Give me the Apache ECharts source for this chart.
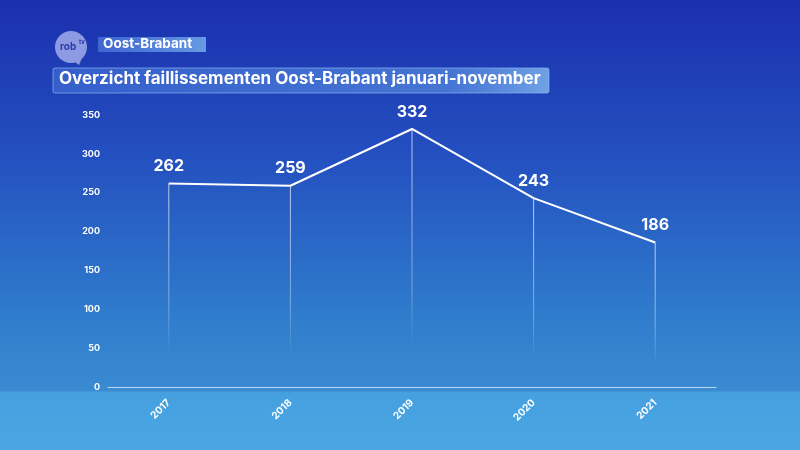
<!DOCTYPE html>
<html><head><meta charset="utf-8">
<script src="https://cdn.jsdelivr.net/npm/echarts@6/dist/echarts.min.js"></script>
<style>html,body{margin:0;padding:0;}#c{width:800px;height:450px;}</style>
</head><body><div id="c"></div>
<script>
const years = ['2017','2018','2019','2020','2021'];
const values = [262, 259, 332, 243, 186];
const yTicks = [0, 50, 100, 150, 200, 250, 300, 350];
const tag = 'Oost-Brabant';
const title = 'Overzicht faillissementen Oost-Brabant januari-november';

const chart = echarts.init(document.getElementById('c'));
const font = 'Inter, "Open Sans", sans-serif';
chart.setOption({
  animation: false,
  backgroundColor: {
    type: 'linear', x: 0, y: 0, x2: 0, y2: 1,
    colorStops: [
      {offset: 0, color: '#1b2fae'},
      {offset: 0.35, color: '#2450c0'},
      {offset: 0.7, color: '#2f7ccc'},
      {offset: 0.868, color: '#3a8bd2'},
      {offset: 0.872, color: '#46a0e0'},
      {offset: 1, color: '#4aa6e2'}
    ]
  },
  graphic: [
    {type: 'circle', shape: {cx: 71, cy: 47, r: 16}, style: {fill: '#8e9be3'}},
    {type: 'polygon', shape: {points: [[72, 60], [82, 58], [79, 65]]}, style: {fill: '#8e9be3'}},
    {type: 'text', x: 60, y: 42, style: {text: 'rob', fill: '#2a3aa8', font: 'bold 10px ' + font}},
    {type: 'text', x: 79, y: 39, style: {text: 'tv', fill: '#2a3aa8', font: 'bold 6px ' + font}},
    {type: 'rect', shape: {x: 98, y: 37, width: 108, height: 15},
      style: {fill: {type: 'linear', x: 0, y: 0, x2: 1, y2: 0, colorStops: [{offset: 0, color: 'rgba(90,140,235,0.55)'}, {offset: 1, color: 'rgba(120,180,240,0.8)'}]}}},
    {type: 'text', x: 103, y: 37, style: {text: tag, fill: '#ffffff', font: 'bold 13.5px ' + font}},
    {type: 'rect', shape: {x: 53, y: 68, width: 496, height: 25, r: 2},
      style: {fill: {type: 'linear', x: 0, y: 0, x2: 1, y2: 0, colorStops: [{offset: 0, color: 'rgba(70,120,220,0.55)'}, {offset: 0.8, color: 'rgba(100,160,235,0.55)'}, {offset: 1, color: 'rgba(140,195,245,0.75)'}]},
        stroke: 'rgba(140,180,240,0.7)', lineWidth: 1}},
    {type: 'text', x: 59, y: 70, style: {text: title, fill: '#ffffff', font: 'bold 17px ' + font}}
  ],
  grid: {left: 108, right: 84, top: 115, bottom: 63},
  xAxis: {
    type: 'category', data: years, boundaryGap: true,
    axisLine: {lineStyle: {color: 'rgba(200,225,250,0.9)', width: 1}},
    axisTick: {show: false},
    axisLabel: {rotate: 45, color: '#ffffff', fontFamily: font, fontWeight: 'bold', fontSize: 10, margin: 14}
  },
  yAxis: {
    type: 'value', min: 0, max: 350, interval: 50,
    axisLine: {show: false}, axisTick: {show: false}, splitLine: {show: false},
    axisLabel: {color: '#ffffff', fontFamily: font, fontWeight: 'bold', fontSize: 9, margin: 8}
  },
  series: [
    {
      type: 'bar', data: values, barWidth: 1, silent: true,
      itemStyle: {color: {type: 'linear', x: 0, y: 0, x2: 0, y2: 1, colorStops: [
        {offset: 0, color: 'rgba(255,255,255,0.7)'},
        {offset: 0.6, color: 'rgba(255,255,255,0.35)'},
        {offset: 0.85, color: 'rgba(255,255,255,0)'},
        {offset: 1, color: 'rgba(255,255,255,0)'}]}}
    },
    {
      type: 'line', data: values, symbol: 'circle', symbolSize: 0.1, showSymbol: true,
      lineStyle: {color: '#ffffff', width: 2},
      label: {show: true, position: 'top', distance: 9, color: '#ffffff', fontFamily: font, fontWeight: 'bold', fontSize: 16}
    }
  ]
});
</script></body></html>
